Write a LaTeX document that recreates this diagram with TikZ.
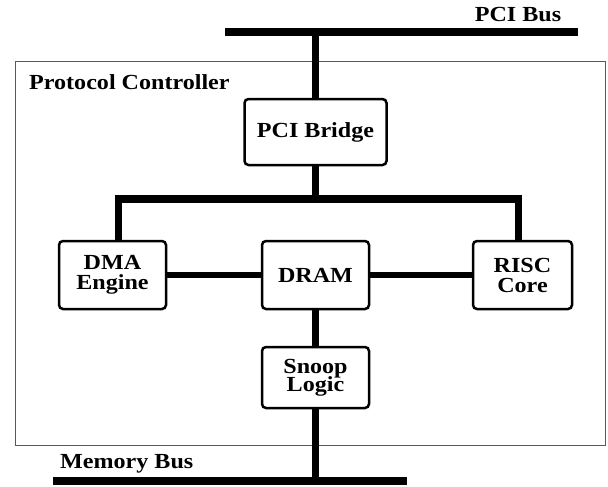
\documentclass[tikz,border=0pt]{standalone}
\usepackage{fontspec}
\setmainfont{Liberation Serif}[FakeStretch=1.12]
\usetikzlibrary{positioning}

\tikzset{
  unit/.style={draw,line width=2.5pt,rounded corners=4pt,fill=white,
    align=center,font=\fontsize{21.5}{20}\selectfont\bfseries,
    inner sep=0pt,minimum width=107pt,minimum height=68pt},
  bus/.style={line width=7.5pt},
  title/.style={font=\fontsize{21.5}{24}\selectfont\bfseries,inner sep=0pt}
}

\begin{document}
\begin{tikzpicture}[x=1pt,y=-1pt]
\useasboundingbox (0,0) rectangle (608,487);

% protocol controller frame
\draw[gray!70!black,line width=0.9pt] (15,61) rectangle (605,445);
\node[title,anchor=west] (pc) at (29,82) {Protocol Controller};

% buses
\coordinate (pciL) at (225,32);
\coordinate (pciR) at (578,32);
\coordinate (memL) at (53,481);
\coordinate (memR) at (407,481);
\draw[bus] (pciL) -- (pciR);
\draw[bus] (memL) -- (memR);
\node[title] (pcilabel) at (518,15) {PCI Bus};
\node[title,anchor=west] (memlabel) at (60,464) {Memory Bus};

% units
\node[unit,minimum width=142pt,minimum height=66pt] (bridge) at (315.5,132) {PCI Bridge};
\node[unit] (dma) at (112.5,275) {DMA\\Engine};
\node[unit] (dram) at (315.5,275) {DRAM};
\node[unit,minimum width=99pt] (risc) at (522.5,275) {RISC\\Core};
\node[unit,minimum height=61pt] (snoop) at (315.5,377.5) {Snoop\\[-2pt]Logic};

% connections
\coordinate (split) at (bridge.south |- 0,199);
\draw[bus] (bridge.north |- pciL) -- (bridge.north);
\draw[bus] (bridge.south) -- (split);
\draw[bus] ([xshift=6pt]dma.north) |- (split) -| ([xshift=-4pt]risc.north);
\draw[bus,line width=6.5pt] (dma) -- (dram);
\draw[bus,line width=6.5pt] (dram) -- (risc);
\draw[bus] (dram.south) -- (snoop.north);
\draw[bus] (snoop.south) -- (snoop.south |- memL);

\end{tikzpicture}
\end{document}
